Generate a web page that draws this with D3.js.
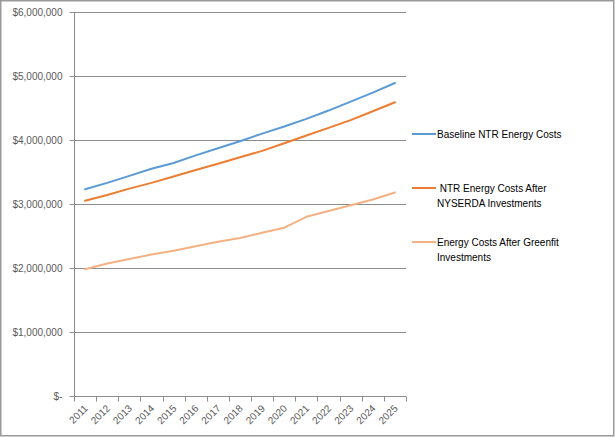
<!DOCTYPE html>
<html><head><meta charset="utf-8">
<script src="https://cdn.jsdelivr.net/npm/d3@7"></script>
<style>body{margin:0;background:#fff}svg{display:block}text{font-family:"Liberation Sans",Arial,sans-serif}</style>
</head><body><svg id="c" width="615" height="437"></svg>
<script>
const years = ["2011","2012","2013","2014","2015","2016","2017","2018","2019","2020","2021","2022","2023","2024","2025"];
const baseline = [3230000,3330000,3440000,3550000,3640000,3760000,3870000,3980000,4100000,4210000,4330000,4460000,4600000,4740000,4890000];
const nyserda = [3050000,3140000,3240000,3330000,3430000,3530000,3630000,3730000,3830000,3950000,4070000,4190000,4310000,4450000,4590000];
const greenfit = [1980000,2070000,2140000,2210000,2270000,2340000,2410000,2470000,2550000,2630000,2800000,2890000,2980000,3070000,3180000];
const seriesNames = ["Baseline NTR Energy Costs"," NTR Energy Costs After NYSERDA Investments","Energy Costs After Greenfit Investments"];
const colors = ["#5b9bd5","#ed7d31","#f4b183"];
const yTicks = [0,1000000,2000000,3000000,4000000,5000000,6000000];

const svg = d3.select("#c");
svg.append("rect").attr("x",0.75).attr("y",0.75).attr("width",613).attr("height",435).attr("fill","#fff").attr("stroke","#999").attr("stroke-width",1.5);

const L=74,R=406,T=12,B=396;
const x = d3.scaleBand().domain(years).range([L,R]);
const y = d3.scaleLinear().domain([0,6000000]).range([B,T]);

const fmt = v => v===0 ? "$-" : "$"+d3.format(",")(v);

// gridlines
svg.append("g").selectAll("line").data(yTicks.filter(d=>d>0)).join("line")
  .attr("x1",L).attr("x2",R).attr("y1",d=>Math.round(y(d))+0.5).attr("y2",d=>Math.round(y(d))+0.5)
  .attr("stroke","#8c8c8c").attr("stroke-width",1);

// y axis
const ya = svg.append("g").attr("transform",`translate(${L+0.5},0)`)
  .call(d3.axisLeft(y).tickValues(yTicks).tickFormat(fmt).tickSize(5).tickPadding(7));
ya.select(".domain").attr("stroke","#8c8c8c").attr("d",`M0,${T}V${B}`);
ya.selectAll(".tick line").attr("stroke","#8c8c8c");
ya.selectAll(".tick").attr("transform",d=>`translate(0,${Math.round(y(d))+0.5})`);
ya.selectAll("text").attr("fill","#595959").attr("font-size",10).style("font-family","'Liberation Sans',Arial,sans-serif");

// x axis
const xa = svg.append("g").attr("transform",`translate(0,${B+0.5})`);
xa.append("line").attr("x1",L).attr("x2",R).attr("stroke","#8c8c8c");
const bounds = years.map(d=>x(d)).concat([R]);
xa.selectAll("line.t").data(bounds).join("line").attr("class","t")
  .attr("x1",d=>Math.round(d)+0.5).attr("x2",d=>Math.round(d)+0.5).attr("y1",0).attr("y2",5).attr("stroke","#8c8c8c");
xa.selectAll("text").data(years).join("text")
  .attr("transform",d=>`translate(${x(d)+x.bandwidth()/2+1},${10}) rotate(-45)`)
  .attr("text-anchor","end").attr("dy","0.35em").attr("font-size",10).attr("fill","#595959").text(d=>d);

// lines
const line = d3.line().x((d,i)=>x(years[i])+x.bandwidth()/2).y(d=>y(d));
[baseline,nyserda,greenfit].forEach((s,i)=>{
  svg.append("path").datum(s).attr("d",line).attr("fill","none")
    .attr("stroke",colors[i]).attr("stroke-width",2).attr("stroke-linejoin","round").attr("stroke-linecap","round");
});

// legend
const leg = [
  {y:134, lines:["Baseline NTR Energy Costs"]},
  {y:188, lines:[" NTR Energy Costs After","NYSERDA Investments"]},
  {y:242, lines:["Energy Costs After Greenfit","Investments"]}
];
leg.forEach((l,i)=>{
  svg.append("line").attr("x1",412).attr("x2",436).attr("y1",l.y).attr("y2",l.y).attr("stroke",colors[i]).attr("stroke-width",2);
  const t = svg.append("text").attr("x",437).attr("y",l.y).attr("dy","0.35em").attr("font-size",10).attr("fill","#000").style("white-space","pre");
  l.lines.forEach((s,j)=>t.append("tspan").attr("x",437).attr("dy",j===0?"0.35em":"15px").text(s));
});
</script></body></html>
